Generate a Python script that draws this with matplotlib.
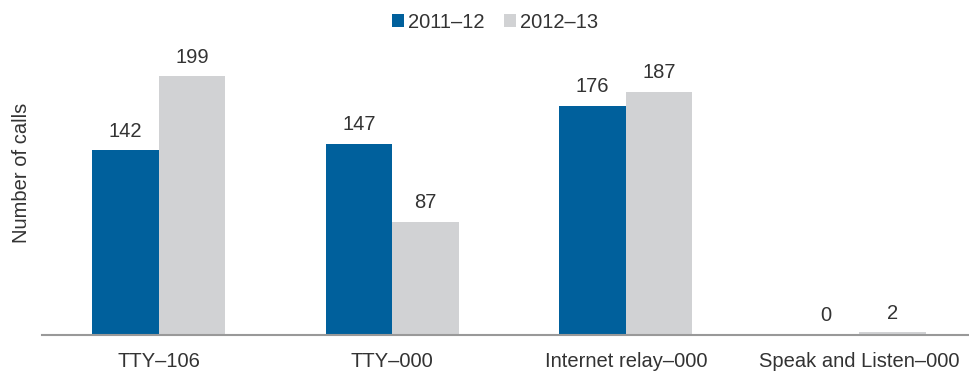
import matplotlib
matplotlib.use("Agg")
import matplotlib.pyplot as plt
import numpy as np

categories = ["TTY\u2013106", "TTY\u2013000", "Internet relay\u2013000", "Speak and Listen\u2013000"]
series_names = ["2011\u201312", "2012\u201313"]
values_2011 = [142, 147, 176, 0]
values_2012 = [199, 87, 187, 2]

plt.rcParams["font.family"] = ["Liberation Sans", "DejaVu Sans"]
W, H = 969, 372
fs = 14.5
fig = plt.figure(figsize=(W / 100, H / 100), dpi=100)
ax = fig.add_axes([42 / W, (H - 335) / H, (969 - 42) / W, 325 / H])

x = np.arange(len(categories))
bw = 0.285
c1, c2 = "#00609c", "#d1d2d4"
b1 = ax.bar(x - bw / 2, values_2011, bw, color=c1, label=series_names[0])
b2 = ax.bar(x + bw / 2, values_2012, bw, color=c2, label=series_names[1])

for bars in (b1, b2):
    for rect in bars:
        v = rect.get_height()
        ax.annotate(f"{v:g}", (rect.get_x() + rect.get_width() / 2, v),
                    xytext=(0, 7), textcoords="offset points",
                    ha="center", va="bottom", fontsize=fs, color="#333333")

ax.set_xlim(-0.5, 3.47)
ax.set_ylim(0, 250)
for s in ("top", "right", "left"):
    ax.spines[s].set_visible(False)
ax.spines["bottom"].set_color("#999999")
ax.spines["bottom"].set_linewidth(1.5)
ax.set_yticks([])
ax.set_xticks(x)
ax.set_xticklabels(categories, fontsize=fs, color="#333333")
ax.tick_params(axis="x", length=0, pad=12)
ax.set_ylabel("Number of calls", fontsize=fs, color="#333333", labelpad=8)

fig.legend(loc="upper center", bbox_to_anchor=(495 / W, 1.015), ncol=2, frameon=False,
           fontsize=fs, handlelength=0.6, handleheight=0.6, handletextpad=0.2,
           columnspacing=1.0, labelcolor="#333333")

fig.savefig("out.png", dpi=100)
